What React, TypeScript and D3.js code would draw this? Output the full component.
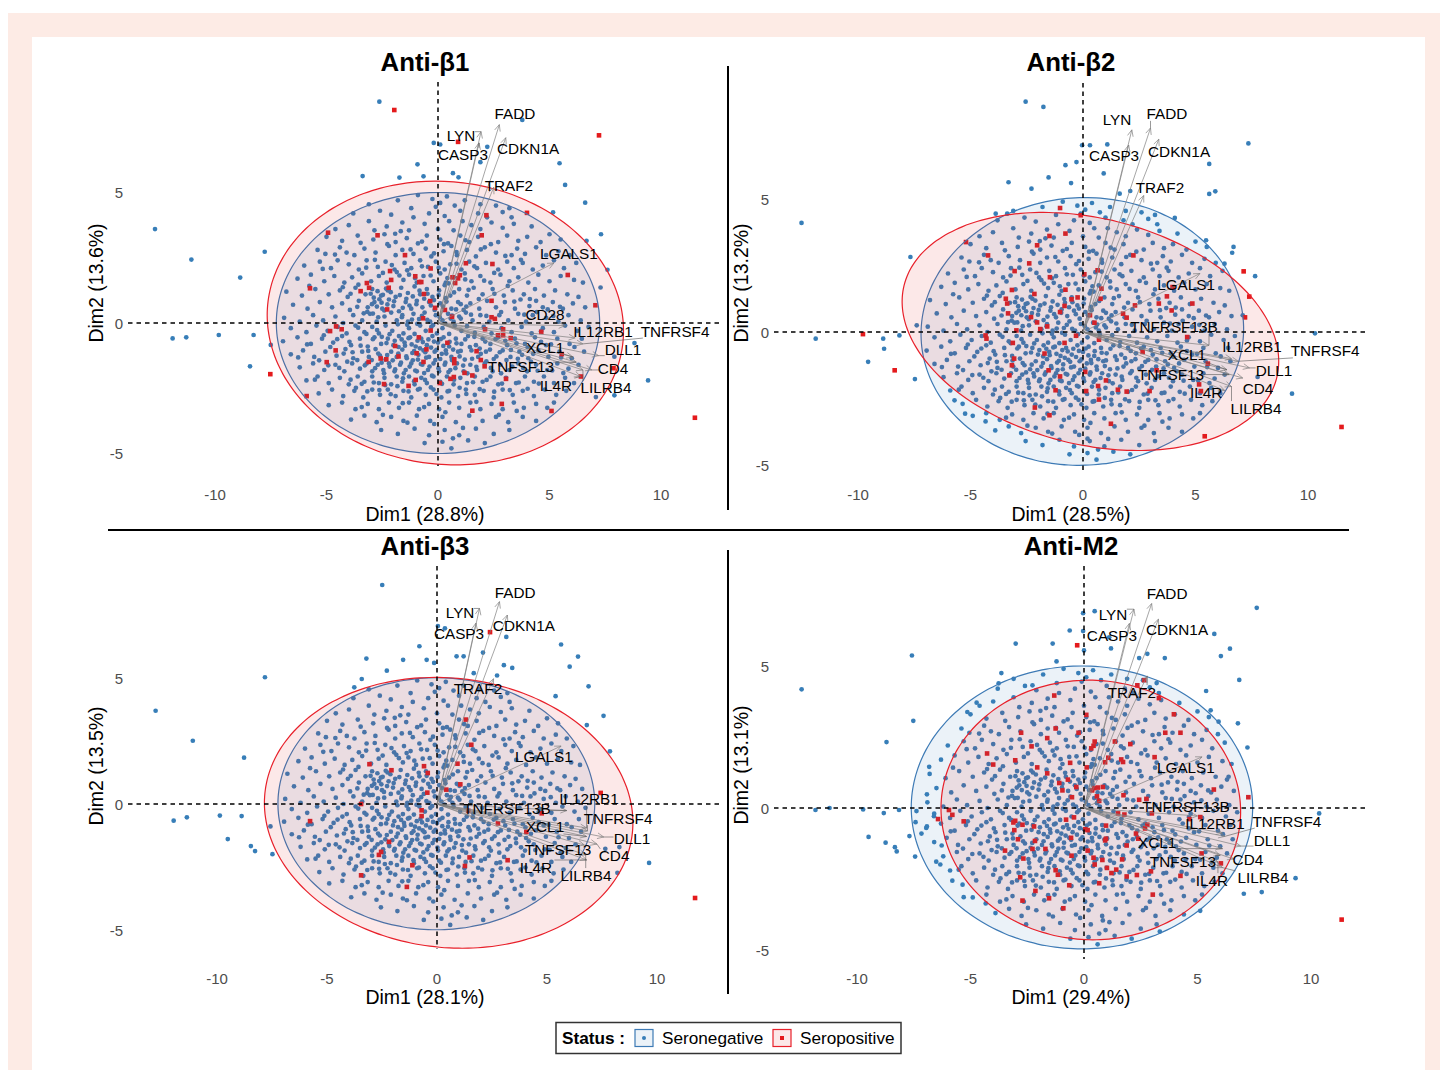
import React from "react";
import * as d3 from "d3";

// Chart values.
const xTicks = [-10, -5, 0, 5, 10];
const yTicks = [-5, 0, 5];

// Dense interior of the score plot, the same subjects in all four panels (x, y pairs).
const coreCloud = [
  -1.8,4.7,-0.9,4.9,0.1,4.6,0.4,4.85,1.2,4.7,1.9,4.55,2.6,4.5,-0.25,4.75,-3.1,4.55,3.2,4.4,
  -2.6,4.3,-2.1,4.15,-1.2,4.4,-1.1,4.05,-0.4,4.2,-0.1,4.45,0.3,4.1,1.0,4.3,1.8,4.2,2.2,4.05,2.9,4.25,3.3,4.05,-3.8,4.2,0.75,4.5,
  -4.0,3.75,-3.1,3.9,-2.3,3.7,-1.6,3.85,-1.3,3.55,-0.6,3.8,0.0,3.6,0.5,3.9,0.7,3.55,1.5,3.75,1.9,3.6,2.4,3.85,2.9,3.65,3.4,3.8,4.2,3.7,-4.6,3.6,-2.85,3.55,1.1,3.9,
  -5.0,3.3,-4.3,3.15,-3.6,3.35,-2.9,3.2,-2.4,3.4,-1.9,3.1,-1.4,3.25,-0.9,3.05,-0.5,3.35,0.1,3.2,0.45,3.05,1.0,3.35,1.4,3.1,1.8,3.3,2.7,3.1,3.1,3.35,3.6,3.15,4.0,3.3,4.6,3.1,5.0,3.4,5.5,3.2,
  -5.4,2.8,-5.05,2.65,-4.4,2.9,-4.1,2.7,-3.75,2.6,-3.3,2.85,-2.8,2.7,-2.2,2.95,-1.9,2.6,-1.6,2.8,-1.1,2.65,-0.55,2.85,-0.3,2.55,0.25,2.75,0.6,2.95,0.85,2.6,1.3,2.8,1.7,2.55,2.1,2.9,2.6,2.7,3.3,2.6,3.55,2.85,3.9,2.65,4.4,2.9,4.85,2.6,5.4,2.75,5.9,2.6,
  -6.0,2.2,-5.3,2.35,-4.8,2.1,-4.5,2.4,-4.0,2.25,-3.55,2.05,-3.2,2.4,-2.7,2.15,-2.35,2.35,-1.95,2.05,-1.5,2.3,-1.2,2.1,-0.8,2.4,-0.45,2.15,-0.1,2.35,0.3,2.05,0.55,2.25,1.05,2.05,1.4,2.35,1.75,2.1,2.15,2.3,2.7,2.05,3.1,2.35,3.4,2.1,3.8,2.3,4.25,2.05,4.7,2.2,5.2,2.4,5.65,2.1,6.2,2.3,
  -6.3,1.7,-5.7,1.85,-5.1,1.6,-4.65,1.8,-4.2,1.55,-3.85,1.75,-3.4,1.9,-3.0,1.6,-2.65,1.8,-2.3,1.55,-1.85,1.95,-1.55,1.65,-1.3,1.85,-0.95,1.55,-0.65,1.8,-0.2,1.6,0.1,1.9,0.35,1.55,0.7,1.75,1.2,1.9,1.5,1.6,1.9,1.8,2.35,1.55,2.8,1.85,3.2,1.6,3.6,1.75,4.05,1.55,4.5,1.85,5.0,1.6,5.5,1.8,6.1,1.65,6.5,1.55,
  -6.8,1.2,-6.1,1.05,-5.5,1.3,-4.9,1.1,-4.4,1.25,-4.05,1.0,-3.7,1.35,-3.25,1.1,-2.95,1.3,-2.55,1.05,-2.25,1.25,-1.9,1.0,-1.65,1.35,-1.35,1.15,-1.05,1.4,-0.8,1.1,-0.5,1.3,-0.25,1.0,0.05,1.25,0.3,1.45,0.55,1.05,0.95,1.3,1.3,1.05,1.6,1.35,2.0,1.1,2.45,1.3,2.95,1.05,3.35,1.25,3.85,1.1,4.35,1.3,4.75,1.05,5.25,1.25,5.8,1.1,6.3,1.0,
  -6.5,0.7,-5.85,0.55,-5.3,0.8,-4.75,0.6,-4.3,0.75,-3.95,0.5,-3.55,0.85,-3.15,0.6,-2.85,0.8,-2.5,0.55,-2.2,0.9,-2.0,0.65,-1.75,0.45,-1.45,0.8,-1.2,0.55,-0.95,0.85,-0.7,0.6,-0.4,0.8,-0.15,0.5,0.1,0.75,0.35,0.95,0.6,0.55,0.9,0.8,1.15,0.5,1.45,0.75,1.85,0.55,2.2,0.85,2.6,0.6,3.0,0.8,3.45,0.55,3.7,0.9,4.1,0.65,4.4,0.85,4.7,0.6,5.15,0.8,5.6,0.55,6.05,0.75,6.6,0.6,
  -6.9,0.2,-6.2,0.05,-5.6,0.3,-5.15,0.1,-4.6,0.25,-4.25,0.0,-3.8,0.3,-3.4,0.1,-3.05,0.35,-2.75,0.05,-2.4,0.25,-2.1,0.4,-1.85,0.1,-1.6,0.3,-1.35,0.05,-1.1,0.35,-0.85,0.15,-0.6,0.4,-0.35,0.05,-0.1,0.3,0.2,0.1,0.45,0.35,0.7,0.05,0.95,0.25,1.25,0.4,1.55,0.1,1.9,0.3,2.3,0.05,2.75,0.3,3.15,0.1,3.6,0.35,3.95,0.05,4.25,0.3,4.85,0.2,5.4,0.05,5.85,0.3,6.4,0.1,
  -6.6,-0.2,-5.9,-0.35,-5.45,-0.1,-4.95,-0.3,-4.5,-0.15,-4.1,-0.4,-3.7,-0.1,-3.3,-0.35,-2.95,-0.15,-2.65,-0.4,-2.35,-0.1,-2.05,-0.3,-1.8,-0.05,-1.55,-0.4,-1.3,-0.2,-1.05,-0.42,-0.8,-0.1,-0.55,-0.3,-0.3,-0.15,-0.05,-0.4,0.2,-0.2,0.5,-0.42,0.75,-0.1,1.05,-0.3,1.3,-0.12,1.65,-0.38,2.05,-0.15,2.4,-0.4,2.85,-0.2,3.3,-0.35,3.75,-0.15,4.2,-0.4,4.7,-0.2,5.2,-0.35,5.7,-0.1,6.25,-0.3,6.75,-0.15,
  -6.95,-0.7,-6.3,-0.55,-5.7,-0.8,-5.2,-0.6,-4.7,-0.75,-4.3,-0.5,-3.9,-0.85,-3.5,-0.6,-3.15,-0.9,-2.85,-0.55,-2.55,-0.8,-2.25,-0.6,-2.0,-0.85,-1.75,-0.5,-1.5,-0.75,-1.25,-0.55,-1.0,-0.9,-0.75,-0.6,-0.5,-0.85,-0.25,-0.5,0.0,-0.75,0.25,-0.55,0.5,-0.9,0.8,-0.6,1.05,-0.8,1.35,-0.5,1.7,-0.85,2.0,-0.6,2.35,-0.8,2.7,-0.55,3.1,-0.85,3.45,-0.6,3.9,-0.8,4.35,-0.55,4.85,-0.85,5.35,-0.6,5.9,-0.8,6.45,-0.6,
  -6.6,-1.2,-6.05,-1.05,-5.55,-1.3,-5.05,-1.1,-4.55,-1.25,-4.15,-1.0,-3.8,-1.35,-3.4,-1.1,-3.1,-1.3,-2.8,-1.0,-2.6,-1.25,-2.35,-1.4,-2.1,-1.1,-1.85,-1.3,-1.6,-1.02,-1.4,-1.35,-1.15,-1.15,-0.9,-1.4,-0.65,-1.05,-0.4,-1.3,-0.15,-1.1,0.1,-1.38,0.35,-1.05,0.6,-1.3,0.9,-1.1,1.2,-1.4,1.5,-1.05,1.8,-1.3,2.15,-1.1,2.5,-1.38,2.9,-1.05,3.25,-1.3,3.65,-1.1,4.05,-1.35,4.5,-1.05,4.95,-1.3,5.45,-1.1,6.0,-1.35,6.55,-1.1,
  -6.2,-1.7,-5.6,-1.55,-5.1,-1.8,-4.6,-1.6,-4.2,-1.85,-3.85,-1.55,-3.5,-1.75,-3.2,-1.55,-2.95,-1.85,-2.7,-1.6,-2.45,-1.8,-2.2,-1.55,-1.95,-1.85,-1.7,-1.6,-1.45,-1.8,-1.2,-1.55,-0.95,-1.85,-0.7,-1.6,-0.45,-1.8,-0.2,-1.55,0.05,-1.85,0.3,-1.6,0.55,-1.8,0.85,-1.55,1.15,-1.85,1.45,-1.6,1.75,-1.8,2.1,-1.55,2.45,-1.85,2.8,-1.6,3.2,-1.8,3.6,-1.55,4.0,-1.85,4.4,-1.6,4.9,-1.8,5.35,-1.55,5.85,-1.75,6.3,-1.6,
  -5.9,-2.2,-5.4,-2.05,-4.9,-2.3,-4.4,-2.1,-4.0,-2.35,-3.6,-2.05,-3.3,-2.25,-2.95,-2.05,-2.65,-2.3,-2.4,-2.1,-2.1,-2.35,-1.85,-2.05,-1.6,-2.25,-1.3,-2.05,-1.05,-2.35,-0.75,-2.1,-0.5,-2.3,-0.2,-2.05,0.1,-2.25,0.4,-2.05,0.7,-2.35,1.0,-2.1,1.3,-2.3,1.65,-2.05,2.0,-2.25,2.35,-2.05,2.7,-2.35,3.05,-2.1,3.5,-2.3,3.9,-2.05,4.3,-2.25,4.75,-2.05,5.2,-2.3,5.7,-2.1,6.1,-2.3,
  -5.35,-2.7,-4.75,-2.55,-4.25,-2.8,-3.75,-2.6,-3.35,-2.85,-2.95,-2.55,-2.6,-2.75,-2.25,-2.55,-1.9,-2.8,-1.55,-2.6,-1.2,-2.85,-0.9,-2.55,-0.55,-2.75,-0.2,-2.55,0.15,-2.85,0.5,-2.6,0.9,-2.8,1.25,-2.55,1.65,-2.75,2.05,-2.6,2.5,-2.85,2.9,-2.55,3.35,-2.75,3.8,-2.6,4.3,-2.8,4.8,-2.55,5.3,-2.75,5.75,-2.6,
  -4.9,-3.15,-4.3,-3.05,-3.7,-3.3,-3.15,-3.1,-2.65,-3.3,-2.2,-3.05,-1.75,-3.25,-1.3,-3.05,-0.85,-3.3,-0.4,-3.1,0.05,-3.3,0.5,-3.05,0.95,-3.25,1.45,-3.05,1.9,-3.3,2.4,-3.1,2.9,-3.3,3.4,-3.05,3.85,-3.25,4.4,-3.1,4.9,-3.25,5.2,-3.05,
  -3.9,-3.7,-3.3,-3.55,-2.75,-3.8,-2.1,-3.6,-1.55,-3.75,-0.95,-3.55,-0.35,-3.75,0.2,-3.6,0.8,-3.8,1.4,-3.55,2.0,-3.75,2.6,-3.6,3.15,-3.8,3.8,-3.6,4.4,-3.75,
  -2.55,-4.1,-1.8,-4.25,-1.05,-4.05,-0.4,-4.3,0.3,-4.1,0.95,-4.3,1.7,-4.05,2.5,-4.25,3.2,-4.1,0.2,-4.55,-0.6,-4.6,1.35,-4.5,2.1,-4.6,0.6,-4.8,
];

// Tighter clumps around the centre of the cloud, where marks overlap in the picture.
const denseCloud = [
  -3.02,1.12,-2.88,0.97,-2.71,1.22,-2.63,0.91,-2.47,1.08,-2.96,0.72,-2.74,0.63,-2.53,0.78,-2.41,0.48,-2.27,0.71,-3.17,0.43,-2.92,0.36,-2.68,0.22,-2.33,1.32,-2.12,1.18,-1.97,0.83,-1.71,1.07,-1.58,0.58,-1.42,0.93,-1.28,0.67,
  -1.13,1.02,-0.97,0.72,-0.83,1.24,-0.62,0.93,-0.47,1.12,-0.32,0.67,-0.18,0.88,0.03,1.07,0.22,0.63,0.38,0.82,0.63,0.28,0.81,0.52,1.02,0.17,1.27,0.63,1.48,0.32,-1.62,0.22,-1.38,-0.07,-1.17,0.13,-0.93,-0.03,-0.72,0.27,
  -0.48,0.12,-0.22,-0.08,0.08,0.22,0.33,-0.02,0.57,0.17,-3.62,0.62,-3.33,0.37,-3.58,-0.18,-3.21,-0.42,-2.92,-0.62,-2.73,-0.27,-2.52,-0.53,-2.31,-0.77,-2.17,-0.43,-1.94,-0.68,-1.77,-0.92,-1.63,-0.63,-1.48,-0.87,-1.32,-0.58,-1.18,-0.82,-1.07,-1.08,
  -0.92,-0.68,-0.81,-0.97,-0.68,-0.73,-0.57,-1.12,-0.43,-0.63,-0.31,-0.94,-0.18,-0.71,-0.07,-1.03,0.12,-0.62,0.24,-0.88,0.37,-1.17,0.52,-0.72,0.68,-1.02,0.83,-0.78,1.02,-1.07,1.22,-0.63,1.43,-0.92,1.63,-0.53,1.87,-0.98,2.12,-0.71,
  2.33,-1.02,2.58,-0.62,2.77,-1.12,3.02,-0.68,3.27,-1.03,3.52,-0.78,3.77,-1.22,4.02,-0.93,4.27,-1.18,4.62,-0.72,-3.83,-1.12,-3.62,-1.42,-3.47,-0.87,-3.28,-1.62,-3.13,-1.07,-2.97,-1.42,-2.82,-1.73,-2.68,-1.17,-2.53,-1.52,-2.42,-1.93,
  -2.28,-1.23,-2.17,-1.67,-2.03,-1.43,-1.92,-1.78,-1.78,-1.17,-1.66,-1.52,-1.53,-1.93,-1.42,-1.28,-1.27,-1.67,-1.13,-1.43,-1.02,-1.82,-0.88,-1.22,-0.77,-1.57,-0.62,-1.92,-0.53,-1.33,-0.38,-1.67,-0.27,-2.02,-0.12,-1.42,0.02,-1.73,0.17,-1.18,
  0.33,-1.52,0.47,-1.88,0.62,-1.42,0.78,-1.73,0.97,-1.28,1.13,-1.63,1.32,-1.93,1.53,-1.37,1.72,-1.68,1.92,-1.18,2.17,-1.47,2.37,-1.72,2.62,-1.28,2.83,-1.93,3.07,-1.42,3.33,-1.67,3.58,-1.37,3.82,-1.72,4.17,-1.48,4.47,-1.83,
  -3.92,-2.17,-3.68,-2.48,-3.42,-2.33,-3.17,-2.62,-2.88,-2.28,-2.63,-2.57,-2.37,-2.38,-2.12,-2.73,-1.82,-2.42,-1.57,-2.12,-1.32,-2.62,-1.07,-2.23,-0.82,-2.52,-0.58,-2.18,-0.32,-2.47,-0.07,-2.72,0.18,-2.33,0.43,-2.62,0.72,-2.17,0.97,-2.48,
  1.27,-2.72,1.57,-2.27,1.87,-2.53,2.18,-2.18,2.52,-2.63,2.87,-2.32,3.22,-2.57,3.62,-2.28,4.02,-2.52,4.52,-2.32,-5.12,-0.47,-4.83,-0.92,-4.52,-0.62,-4.23,-1.17,-3.97,-0.72,-5.33,-1.43,-4.92,-1.62,-4.43,-1.72,-4.07,-1.48,-5.52,-2.17,
  -3.22,2.12,-2.83,2.42,-2.47,1.92,-2.07,2.22,-1.73,1.82,-1.38,2.02,-1.03,1.72,-0.72,2.17,-0.33,1.82,0.03,2.12,0.42,1.72,0.83,2.27,1.22,1.67,1.63,2.17,2.07,1.62,2.52,1.92,-4.27,1.37,-3.92,1.12,-3.57,1.47,-1.92,3.42,
  -1.23,2.82,-0.72,3.12,-0.18,2.67,0.27,3.02,0.83,2.72,1.23,3.17,1.92,2.82,2.37,3.02,3.02,2.57,3.72,2.42,4.12,0.92,4.43,0.42,3.87,0.32,3.42,0.82,3.13,1.42,2.83,0.42,2.53,1.12,2.17,0.27,1.83,0.92,1.37,1.27,
  1.02,0.72,0.72,1.17,0.47,1.52,4.92,0.52,5.17,0.27,5.47,0.62,4.62,-0.32,5.07,-0.82,5.52,-1.32,5.12,-1.82,5.62,-1.92,6.12,-0.92,-5.87,-0.82,-6.27,-1.32,-5.77,1.42,-5.17,2.07,-4.62,2.62,-3.47,3.07,-2.27,3.02,-1.67,3.52,
  1.72,-3.02,0.33,-3.42,-0.62,-3.22,-1.58,-3.07,-2.47,-3.52,-3.42,-3.22,2.73,-3.52,3.53,-3.37,-0.17,-3.87,1.12,-4.02,-1.37,-3.82,0.67,-4.42,
];

const ellipseParams = ["cx", "cy", "a", "b", "deg"];
const blueEllipseB1 = [0, 0, 7.25, 5.0, 0];
const redEllipseB1 = [0.33, 0, 8.0, 5.42, -4];
const blueEllipseB2 = [-0.03, 0.02, 7.17, 5.03, 1.5];
const redEllipseB2 = [0.33, 0.02, 8.47, 4.28, -10.3];
const blueEllipseB3 = [-0.03, 0.01, 7.2, 5.0, 0];
const redEllipseB3 = [0.53, -0.35, 8.39, 5.35, -4.5];
const blueEllipseM2 = [-0.09, 0.02, 7.52, 4.98, 0];
const redEllipseM2 = [0.3, -0.07, 6.6, 4.57, -1];

const blueOutB1 = [-2.63,8.48,-12.69,3.6,-11.06,2.43,-8.87,1.74,-7.77,2.73,-11.9,-0.59,-11.29,-0.55,-9.83,-0.46,-8.27,-0.46,-7.5,-0.84,-8.43,-1.66,-0.19,6.9,0.1,6.84,-0.92,6.08,-3.38,5.63,-1.73,5.57,-0.65,5.62,0.67,5.74,0.92,5.58,3.78,7.78,2.21,6.75,1.9,6.16,5.45,6.12,5.7,5.29,6.6,4.61,5.16,4.24,7.31,3.4,7.6,2.04,7.29,1.36,8.81,-0.77,9.42,-2.2,7.91,-2.77,7.08,-2.84,7.91,-1.29,6.66,3.15];
const blueOutB2 = [-2.55,8.66,-1.76,8.46,-12.51,4.1,-11.88,-0.25,-8.88,-0.25,-8.84,-0.63,-9.55,-1.12,-8.16,-0.13,-7.47,-1.77,-7.39,0.25,-7.67,2.82,7.35,7.09,0.31,7.02,1.08,7.05,-0.04,7.02,-0.29,6.39,-0.78,6.27,0.92,5.96,-1.53,5.81,-3.31,5.63,-2.29,5.39,-0.53,5.6,5.61,6.32,5.61,5.19,5.88,5.29,4.08,4.29,1.63,5.2,2.1,5.3,-3.88,4.45,-3.37,4.45,5.47,3.45,6.69,3.2,6.63,2.98,6.29,2.57,7.65,2.1,10.31,-0.05,9.29,-2.32,7.1,0.63,-5.71,-2.57,-5.24,-3.07,-4.33,-3.36,0.2,-4.01,7.76,-1.69];
const blueOutB3 = [-2.49,8.69,-12.79,3.7,-11.1,2.51,-8.77,1.84,-7.82,5.03,-11.97,-0.66,-11.37,-0.53,-9.87,-0.46,-8.88,-0.48,-9.51,-1.39,-8.46,-1.67,-8.27,-1.87,-7.48,-1.99,-7.57,-0.89,0.04,7.06,0.36,6.97,-0.8,6.26,-3.21,5.77,-1.54,5.72,-0.47,5.72,-0.13,5.6,0.89,5.86,1.21,5.86,-2.28,5.29,-3.42,4.96,-3.76,4.63,3.15,6.63,2.09,6.01,5.64,6.33,6.41,5.85,6.03,5.45,3.04,5.51,3.42,5.4,6.89,4.67,5.39,4.28,7.57,3.5,7.86,2.09,9.64,-2.34,8.2,-2.73,7.65,-1.78,8.29,-1.71,1.67,5.19,2.73,5.1,6.81,3.13];
const blueOutM2 = [7.61,7.05,0.47,6.93,-0.04,6.86,-0.63,6.25,-0.04,6.23,1.11,6.01,-3.01,5.79,-1.38,5.79,0,5.55,1.19,5.62,-7.58,5.37,-12.44,4.18,-7.52,3.07,-8.7,2.32,-6.82,1.45,-6.92,0.48,5.74,6.13,6.43,5.61,6.03,5.35,6.84,4.51,5.38,4.12,3.56,5.28,2.79,5.43,2.43,5.28,-1.21,5.16,-3.64,4.75,-3.76,4.39,-2.27,4.32,-5.14,3.38,-4.73,3.71,5.58,3.44,5.93,3.04,6.78,2.98,7.2,2.13,6.37,1.1,10.36,-0.19,9.32,-2.47,7.83,-2.96,7.04,-3.02,5.12,-3.62,3.34,-4.35,0.83,-3.96,-11.83,-0.07,-11.21,0,-9.73,-0.05,-8.82,-0.18,-8.15,-0.07,-9.49,-1.02,-8.74,-1.22,-8.33,-1.38,-8.25,-1.53,-7.69,-0.99,-7.44,-1.71,-6.51,-1.89,-6.33,-1.99,-5.8,-2.56,-5.3,-3.14,-4.33,-3.36,-7.16,-0.9,-7.42,-0.5,-7.38,-0.11,-6.92,-0.65,-6.61,-0.29];

const redB1 = [-1.96,8.16,0.9,6.94,7.22,7.19,11.52,-3.63,-7.52,-1.96,-4.93,3.46,-2.71,3.36,1.96,3.36,2.17,4.13,3.99,4.22,-1.48,2.6,1.25,2.29,2.44,2.26,5.82,1.84,-2.15,1.99,-2.1,1.65,-3.19,1.53,-3.09,1.35,-2.21,1.35,-5.74,1.33,-3.47,1.22,-1.02,1.79,-0.84,1.57,-0.75,1.57,-0.33,2.09,0.65,1.75,0.98,1.83,0.9,1.71,0.77,1.53,-0.63,1.11,-0.35,0.84,-0.13,0.58,0.31,0.5,2.4,0.85,7.06,0.68,-2.28,0.52,-0.67,0.18,0.63,0.24,2.4,0.22,2.55,0.16,-4.57,-0.13,-4.32,-0.24,-4.84,-0.31,-0.33,-0.29,2.11,-0.24,2.92,-0.24,4.63,-0.34,2.69,-0.47,2.92,-0.47,3.26,-0.58,-0.86,-0.55,0.42,-0.76,5.55,-1.19,-1.92,-0.88,-0.52,-1.01,-4.59,-1.05,1.73,-1.08,-0.96,-1.16,-4.99,-1.5,-3.11,-1.49,-2.57,-1.36,-2.32,-1.39,-1.77,-1.28,-0.65,-1.49,0.73,-1.39,0.73,-1.54,1.92,-1.42,2.09,-1.66,7.87,-1.73,3.05,-2.14,0.71,-2.07,0.56,-2.14,1.54,-2.01,1.19,-1.91,-1,-2.18,-1.32,-2.41,-2.42,-2.34,-5.89,-2.8,0.08,-2.3,2.86,-3.1,1.54,-3.36,5.09,-3.37,6.41,-2.05];
const redB2 = [11.49,-3.57,-9.78,-0.08,-8.37,-1.44,-5.2,3.38,-1.02,4.66,-0.1,4.39,-4.22,2.88,-2.04,3.26,-1.49,3.61,-0.78,3.7,-2.39,2.58,-3.04,2.29,-1.47,2.06,0.06,2.17,0.65,2.32,2.24,2.88,7.14,2.28,7.39,1.33,-3.16,1.58,-3.43,1.25,-3.37,1.07,-2.16,1.43,-0.78,1.59,-0.51,1.23,-0.24,1.3,0.82,1.63,0.78,1.25,2.31,1,3.37,1.07,3.73,1.34,3.98,1.69,3.94,0.81,4.86,1.07,7.2,0.55,-3.33,0.7,-2.31,0.56,-1.02,0.75,-0.82,0.98,1.78,0.69,1.94,0.54,0.31,0.63,0.51,0.35,-2.04,0.36,-1.59,0.21,-1.9,0.11,-2.96,0.06,-4.33,-0.13,-4.29,-0.25,-3.12,-0.41,-0.82,-0.41,-0.31,-0.14,0.71,-0.29,2.65,-0.75,4.63,-0.19,-1.71,-0.81,-3.06,-1,-3.16,-1.25,-3.27,-1.63,-1.53,-1.44,0.1,-1.5,1.02,-1.82,0.67,-2.03,-1.02,-1.67,-1.22,-2.19,0.14,-2.22,1.55,-2.17,1.94,-2.24,2.96,-2.22,5.16,-1.97,5.24,-2.22,5.55,-1.19,3.27,-1.44,0.71,-2.54,-2.14,-2.84,-1.49,-3.13,1.24,-3.45,5.41,-3.92];
const redB3 = [11.73,-3.73,2.41,6.82,-3.07,1.58,-2.07,1.34,-0.59,1.5,-0.42,1.23,0.93,1.6,1.56,2.35,1.31,3.35,-0.44,0.45,0.42,0.57,1.06,0.78,-3.45,0,-0.7,-0.25,-0.7,-0.48,-5.77,-0.68,2.77,-0.77,1.42,-0.27,4.76,-0.37,7.44,0.44,4.06,-1.11,-2.54,-1.9,-2.64,-2.02,-1.12,-2.43,-3.45,-2.83,-1.37,-3.29,1.27,-2.46,1.48,-2.12,3.21,-2.23,-2.18,-1.5];
const redM2 = [11.35,-3.93,-0.3,5.73,2.65,4.5,2.35,4.32,3.3,3.87,-1.31,3.96,0.1,3.28,3.96,3.3,3.58,2.65,4.25,2.65,-2.77,2.65,-0.24,2.65,-1.25,2.8,-1.62,2.46,-2.31,2.17,-4.27,1.92,-3.03,1.68,-4,1.53,-2.06,1.43,0.47,2.34,0.32,2.1,0.42,2.19,1.36,2.34,2.04,2.25,1.07,1.77,1.64,1.71,1.72,1.62,3.11,1.79,-0.61,1.59,0.12,1.43,0.93,1.61,-1.62,1.22,-0.71,1,-1.09,0.88,-0.95,0.62,-0.34,0.74,0.45,0.7,0.61,0.72,0.83,0.74,0.36,0.62,0.57,0.41,0.67,0.25,-0.53,0.38,1.74,0.45,2.43,0.29,2.75,0.32,5.72,0.65,7.24,0.38,2.99,-0.19,1.5,-0.19,1.78,-0.23,4.65,-0.39,5.12,-0.32,-5.95,-0.07,-5.8,-0.24,-6.43,-0.39,-5.3,-0.47,-3.03,-0.45,-3.11,-0.51,-3.07,-0.78,-2.71,-0.59,-2.2,-0.65,-0.44,-0.33,-0.79,-0.41,0.06,-0.75,0.16,-0.78,0.97,-0.62,2.79,-0.59,2.69,-0.72,2.29,-0.9,2.39,-1.08,1.88,-1.32,0.97,-1.08,0.93,-1.14,-0.57,-1.05,-2.91,-1.1,-2.16,-1.16,-2.27,-1.44,-1.7,-1.44,-3.48,-1.5,-0.55,-1.68,0.16,-1.5,0.42,-1.75,0.81,-1.83,0.47,-1.99,1.68,-1.81,1.01,-2.11,1.42,-2.17,1.21,-2.29,1.88,-2.41,2.33,-2.36,2.95,-2.23,4.25,-2.39,5.18,-1.6,6.03,-1.95,-2.67,-1.78,-1.25,-2.19,-1.15,-2.35,-2.81,-2.44,-0.65,-2.72,0.67,-2.65,-2.14,-2.92,-2.71,-3.26,-1.54,-3.18,-0.91,-3.53,3.03,-3.05];

// Gene, arrow tip x, y, label x, y
const genesB1: [string, number, number, number, number][] = [
  ["FADD",2.75,7.6,3.45,8.01],["LYN",1.93,7.33,1.03,7.2],["CASP3",1.84,6.9,1.12,6.44],["CDKN1A",3.04,7.1,4.04,6.7],["TRAF2",2.5,5.2,3.18,5.25],["LGALS1",5.2,2.3,5.87,2.68],["CD28",5.7,-0.1,4.8,0.31],["IL12RB1",6.15,-0.57,7.4,-0.31],["TNFRSF4",6.5,-0.8,10.63,-0.31],["XCL1",6.05,-1.3,4.8,-0.92],["DLL1",7.2,-1.25,8.3,-1.03],["TNFSF13",6.2,-1.5,3.72,-1.65],["CD4",6.9,-1.8,7.85,-1.76],["IL4R",6.4,-2.05,5.29,-2.38],["LILRB4",6.5,-1.8,7.53,-2.49],
];
const genesB2: [string, number, number, number, number][] = [
  ["FADD",3.0,7.67,3.73,8.2],["LYN",2.17,7.6,1.51,7.97],["CASP3",2.03,7.03,1.38,6.62],["CDKN1A",3.37,7.25,4.27,6.8],["TRAF2",2.7,5.13,3.42,5.45],["LGALS1",5.2,2.2,4.58,1.77],["TNFRSF13B",5.6,-0.5,4.04,0.19],["IL12RB1",6.6,-1,7.51,-0.56],["TNFRSF4",6.9,-1.1,10.76,-0.71],["XCL1",6.4,-1.42,4.62,-0.86],["DLL1",7.4,-1.35,8.49,-1.43],["TNFSF13",6.5,-1.6,3.91,-1.58],["CD4",7.1,-1.73,7.78,-2.14],["IL4R",6.3,-2.2,5.47,-2.29],["LILRB4",6.6,-2.05,7.69,-2.86],
];
const genesB3: [string, number, number, number, number][] = [
  ["FADD",2.84,8.03,3.55,8.41],["LYN",1.93,7.76,1.05,7.58],["CASP3",1.77,7.18,1.0,6.75],["CDKN1A",3.2,7.5,3.95,7.1],["TRAF2",2.57,4.97,1.86,4.6],["LGALS1",5.64,2.3,4.86,1.87],["TNFRSF13B",5.9,-0.26,3.18,-0.16],["IL12RB1",6.8,-0.95,6.91,0.2],["TNFRSF4",6.84,-1.07,8.23,-0.56],["XCL1",6.8,-1.29,4.91,-0.91],["DLL1",7.58,-1.31,8.86,-1.35],["TNFSF13",6.7,-1.63,5.5,-1.79],["CD4",7.27,-1.59,8.05,-2.06],["IL4R",6.8,-2.22,4.5,-2.5],["LILRB4",6.76,-2.02,6.77,-2.82],
];
const genesM2: [string, number, number, number, number][] = [
  ["FADD",2.98,7.2,3.66,7.57],["LYN",2.2,7.0,1.28,6.83],["CASP3",2.0,6.5,1.23,6.09],["CDKN1A",3.28,6.65,4.1,6.27],["TRAF2",2.78,4.65,2.11,4.08],["LGALS1",5.2,1.8,4.49,1.41],["TNFRSF13B",5.0,-0.28,4.49,0.07],["IL12RB1",6.1,-0.88,5.77,-0.56],["TNFRSF4",6.2,-1.0,8.94,-0.46],["XCL1",6.1,-1.43,3.22,-1.2],["DLL1",6.9,-1.34,8.28,-1.13],["TNFSF13",6.0,-1.67,4.36,-1.87],["CD4",6.6,-1.8,7.22,-1.8],["IL4R",5.9,-1.9,5.64,-2.54],["LILRB4",6.1,-2.1,7.89,-2.46],
];

const titles = ["Anti-β1", "Anti-β2", "Anti-β3", "Anti-M2"];
const xLabels = ["Dim1 (28.8%)", "Dim1 (28.5%)", "Dim1 (28.1%)", "Dim1 (29.4%)"];
const yLabels = ["Dim2 (13.6%)", "Dim2 (13.2%)", "Dim2 (13.5%)", "Dim2 (13.1%)"];
const legendTitle = "Status :";
const legendItems = ["Seronegative", "Seropositive"];

// Layout
const W = 1440, H = 1070;
const FONT = "'Liberation Sans', Arial, sans-serif";
const BLUE = "#377eb8", BLUE_LINE = "#3d7ab5", RED = "#e41a1c", RED_LINE = "#e8202a";

type Panel = {
  x0: number; x10: number; y0: number; y5: number;
  hLine: [number, number]; vLine: [number, number];
  tickRight: number; tickY: number; titleX: number; titleY: number;
  xLabY: number; yLabX: number; yLabY: number;
};
const layouts: Panel[] = [
  { x0: 438, x10: 661, y0: 323, y5: 192.5, hLine: [128, 723], vLine: [82, 466], tickRight: 123, tickY: 494, titleX: 425, titleY: 62, xLabY: 514, yLabX: 96, yLabY: 283 },
  { x0: 1083, x10: 1308, y0: 332, y5: 199, hLine: [774, 1368], vLine: [83, 474], tickRight: 769, tickY: 494, titleX: 1071, titleY: 62, xLabY: 514, yLabX: 741, yLabY: 283 },
  { x0: 437, x10: 657, y0: 804, y5: 678, hLine: [128, 723], vLine: [566, 949], tickRight: 123, tickY: 978, titleX: 425, titleY: 546, xLabY: 997, yLabX: 96, yLabY: 766 },
  { x0: 1084, x10: 1311, y0: 808, y5: 666, hLine: [774, 1368], vLine: [566, 959], tickRight: 769, tickY: 978, titleX: 1071, titleY: 546, xLabY: 997, yLabX: 741, yLabY: 765 },
];

const pairs = (flat: number[]): [number, number][] => {
  const out: [number, number][] = [];
  for (let i = 0; i + 1 < flat.length; i += 2) out.push([flat[i], flat[i + 1]]);
  return out;
};

function ellipsePath(e: number[], x: d3.ScaleLinear<number, number>, y: d3.ScaleLinear<number, number>) {
  const [cx, cy, a, b, deg] = ellipseParams.map((_, i) => e[i]);
  const r = (deg * Math.PI) / 180;
  const pts = d3.range(0, 120).map((i) => {
    const t = (i / 120) * 2 * Math.PI;
    return [
      x(cx + a * Math.cos(t) * Math.cos(r) - b * Math.sin(t) * Math.sin(r)),
      y(cy + a * Math.cos(t) * Math.sin(r) + b * Math.sin(t) * Math.cos(r)),
    ] as [number, number];
  });
  return d3.line().curve(d3.curveCardinalClosed)(pts) as string;
}

function ScorePanel({ idx, blueOut, red, blueE, redE, genes }: { idx: number; blueOut: number[]; red: number[]; blueE: number[]; redE: number[]; genes: [string, number, number, number, number][] }) {
  const L = layouts[idx];
  const x = d3.scaleLinear().domain([0, 10]).range([L.x0, L.x10]);
  const y = d3.scaleLinear().domain([0, 5]).range([L.y0, L.y5]);
  const blues = [...pairs(coreCloud), ...pairs(denseCloud), ...pairs(blueOut)];
  const reds = pairs(red);
  const S = 4.6;
  const ox = x(0), oy = y(0);
  return (
    <g>
      {blues.map(([a, b], i) => (
        <circle key={i} cx={x(a)} cy={y(b)} r={2.35} fill={BLUE} />
      ))}
      {reds.map(([a, b], i) => (
        <rect key={i} x={x(a) - S / 2} y={y(b) - S / 2} width={S} height={S} fill={RED} />
      ))}
      <path d={ellipsePath(blueE, x, y)} fill={BLUE} fillOpacity={0.1} stroke={BLUE_LINE} strokeWidth={1.2} />
      <path d={ellipsePath(redE, x, y)} fill={RED} fillOpacity={0.1} stroke={RED_LINE} strokeWidth={1.2} />
      <line x1={L.hLine[0]} x2={L.hLine[1]} y1={oy} y2={oy} stroke="#000" strokeWidth={1.6} strokeDasharray="4.5 4" />
      <line x1={ox} x2={ox} y1={L.vLine[0]} y2={L.vLine[1]} stroke="#000" strokeWidth={1.5} strokeDasharray="4.5 4" />
      {genes.map(([g, ax, ay]) => {
        const tx = x(ax), ty = y(ay);
        const ang = Math.atan2(ty - oy, tx - ox);
        const h = 7;
        const arm = (d: number) => `${tx - h * Math.cos(ang + d)},${ty - h * Math.sin(ang + d)}`;
        return (
          <g key={g} fill="none" stroke="#7f7f7f" strokeWidth={0.7}>
            <line x1={ox} y1={oy} x2={tx} y2={ty} />
            <path d={`M${arm(0.42)}L${tx},${ty}L${arm(-0.42)}`} />
          </g>
        );
      })}
      {genes.map(([g, ax, ay, lx, ly]) => {
        const tx = x(ax), ty = y(ay), cx = x(lx), cy = y(ly);
        const hw = g.length * 4.6, hh = 7;
        const ex = Math.max(cx - hw, Math.min(cx + hw, tx));
        const ey = Math.max(cy - hh, Math.min(cy + hh, ty));
        const far = Math.hypot(ex - tx, ey - ty) > 5;
        return (
          <g key={g}>
            {far && <line x1={tx} y1={ty} x2={ex} y2={ey} stroke="#555" strokeWidth={0.6} />}
            <text x={cx} y={cy} textAnchor="middle" dominantBaseline="central" fontFamily={FONT} fontSize={15.3} fill="#000">{g}</text>
          </g>
        );
      })}
      {xTicks.map((t) => (
        <text key={t} x={x(t)} y={L.tickY} textAnchor="middle" dominantBaseline="central" fontFamily={FONT} fontSize={15} fill="#4d4d4d">{t}</text>
      ))}
      {yTicks.map((t) => (
        <text key={t} x={L.tickRight} y={y(t)} textAnchor="end" dominantBaseline="central" fontFamily={FONT} fontSize={15} fill="#4d4d4d">{t}</text>
      ))}
      <text x={L.titleX} y={L.titleY} textAnchor="middle" dominantBaseline="central" fontFamily={FONT} fontWeight={700} fontSize={25.8} fill="#000">{titles[idx]}</text>
      <text x={L.titleX} y={L.xLabY} textAnchor="middle" dominantBaseline="central" fontFamily={FONT} fontSize={19.5} fill="#000">{xLabels[idx]}</text>
      <text transform={`translate(${L.yLabX},${L.yLabY}) rotate(-90)`} textAnchor="middle" dominantBaseline="central" fontFamily={FONT} fontSize={19.5} fill="#000">{yLabels[idx]}</text>
    </g>
  );
}

export default function App() {
  return (
    <svg width={W} height={H} viewBox={`0 0 ${W} ${H}`} style={{ position: "absolute", left: 0, top: 0, display: "block" }}>
      <rect width={W} height={H} fill="#fff" />
      <rect x={8} y={13} width={W - 8} height={H - 13} fill="#fdebe5" />
      <rect x={32} y={37} width={1393} height={H - 37} fill="#fff" />
      <ScorePanel idx={0} blueOut={blueOutB1} red={redB1} blueE={blueEllipseB1} redE={redEllipseB1} genes={genesB1} />
      <ScorePanel idx={1} blueOut={blueOutB2} red={redB2} blueE={blueEllipseB2} redE={redEllipseB2} genes={genesB2} />
      <ScorePanel idx={2} blueOut={blueOutB3} red={redB3} blueE={blueEllipseB3} redE={redEllipseB3} genes={genesB3} />
      <ScorePanel idx={3} blueOut={blueOutM2} red={redM2} blueE={blueEllipseM2} redE={redEllipseM2} genes={genesM2} />
      <line x1={728} x2={728} y1={66} y2={510} stroke="#000" strokeWidth={2} />
      <line x1={728} x2={728} y1={550} y2={994} stroke="#000" strokeWidth={2} />
      <line x1={108} x2={1349} y1={530} y2={530} stroke="#000" strokeWidth={2} />
      <g fontFamily={FONT} fontSize={17.2} fill="#000">
        <rect x={556} y={1022.5} width={345} height={31} fill="#fff" stroke="#333" strokeWidth={1.5} />
        <text x={562} y={1038} dominantBaseline="central" fontWeight={700}>{legendTitle}</text>
        <rect x={635} y={1029.5} width={18} height={17} fill={BLUE} fillOpacity={0.1} stroke={BLUE_LINE} strokeWidth={1.2} />
        <circle cx={644} cy={1038} r={2} fill={BLUE} />
        <text x={662} y={1038} dominantBaseline="central">{legendItems[0]}</text>
        <rect x={773} y={1029.5} width={18} height={17} fill={RED} fillOpacity={0.1} stroke={RED_LINE} strokeWidth={1.2} />
        <rect x={780} y={1036} width={4} height={4} fill={RED} />
        <text x={800} y={1038} dominantBaseline="central">{legendItems[1]}</text>
      </g>
    </svg>
  );
}
